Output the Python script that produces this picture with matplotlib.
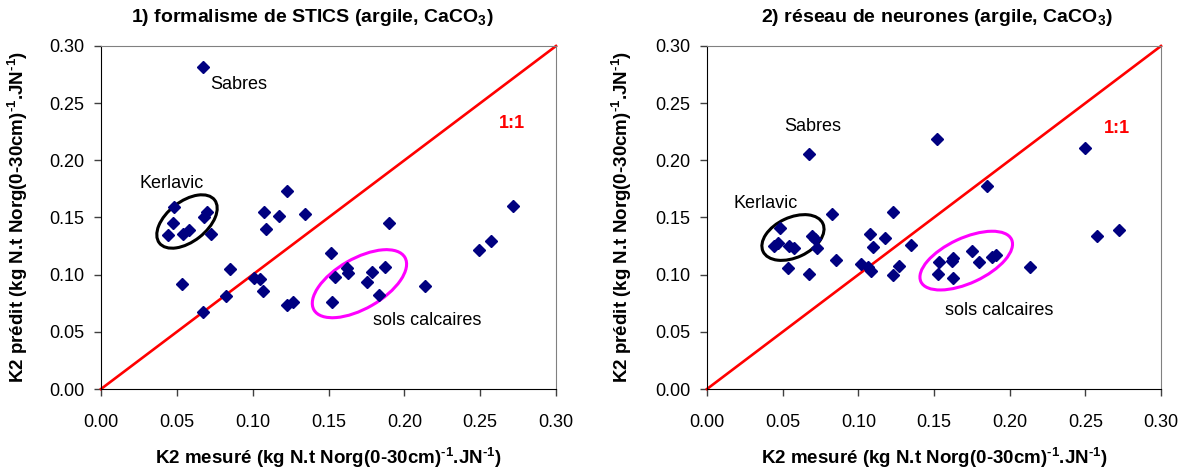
import numpy as np
import matplotlib
matplotlib.use("Agg")
from matplotlib import pyplot as plt
from matplotlib.patches import Ellipse
from matplotlib import transforms

plt.rcParams['font.family'] = ['Liberation Sans', 'DejaVu Sans']
plt.rcParams['mathtext.fontset'] = 'custom'
plt.rcParams['mathtext.rm'] = 'Liberation Sans:bold'
plt.rcParams['mathtext.bf'] = 'Liberation Sans:bold'

# 1) STICS formalism
x_stics = [0.067, 0.0481, 0.0473, 0.044, 0.0543, 0.0582, 0.0697, 0.0679, 0.0725,
           0.0532, 0.0851, 0.067, 0.0824, 0.1009, 0.105, 0.107, 0.1224, 0.1264,
           0.1073, 0.1088, 0.1176, 0.1227, 0.1348, 0.1516, 0.1901, 0.1543, 0.162,
           0.1631, 0.179, 0.1752, 0.1875, 0.1836, 0.1525, 0.2133, 0.2493, 0.257, 0.2714]
y_stics = [0.282, 0.159, 0.145, 0.135, 0.136, 0.139, 0.155, 0.150, 0.136,
           0.092, 0.105, 0.0675, 0.0816, 0.097, 0.0959, 0.086, 0.0734, 0.0757,
           0.1544, 0.140, 0.151, 0.173, 0.153, 0.119, 0.145, 0.0982, 0.1059,
           0.1011, 0.102, 0.0932, 0.1064, 0.0825, 0.0757, 0.0897, 0.1217, 0.1298, 0.1603]

# 2) neural network
x_nn = [0.0672, 0.1522, 0.0828, 0.1227, 0.0482, 0.0443, 0.0471, 0.0544, 0.0577,
        0.0694, 0.0714, 0.0729, 0.0537, 0.0672, 0.0852, 0.1077, 0.1095, 0.1178,
        0.135, 0.1018, 0.1062, 0.1082, 0.1227, 0.1267, 0.2496, 0.1848, 0.2575,
        0.272, 0.2134, 0.1535, 0.1528, 0.1628, 0.162, 0.1628, 0.1749, 0.1797, 0.1881, 0.191]
y_nn = [0.2059, 0.219, 0.1532, 0.1544, 0.141, 0.1248, 0.128, 0.125, 0.123,
        0.134, 0.131, 0.123, 0.106, 0.1006, 0.113, 0.1357, 0.124, 0.1325,
        0.1263, 0.1094, 0.1064, 0.1029, 0.100, 0.1079, 0.2105, 0.1778, 0.1342,
        0.1392, 0.1064, 0.1108, 0.1006, 0.1146, 0.112, 0.0971, 0.121, 0.1108, 0.1158, 0.1175]

ticks = [0.00, 0.05, 0.10, 0.15, 0.20, 0.25, 0.30]

xlab = r"K2 mesuré (kg N.t Norg(0-30cm)$^{\text{-1}}$.JN$^{\text{-1}}$)"
ylab = r"K2 prédit (kg N.t Norg(0-30cm)$^{\text{-1}}$.JN$^{\text{-1}}$)"

fig = plt.figure(figsize=(11.89, 4.73), dpi=100)
ax1 = fig.add_axes([101/1189, 1-389/473, 455/1189, 343/473])
ax2 = fig.add_axes([707/1189, 1-389/473, 454/1189, 343/473])


def ellipse(ax, cx, cy, w, h, ang, col):
    # size in pixels, centre in data coords
    tr = fig.dpi_scale_trans + transforms.ScaledTranslation(cx, cy, ax.transData)
    e = Ellipse((0, 0), w/100, h/100, angle=ang, transform=tr,
                fill=False, edgecolor=col, lw=2.2, clip_on=False, zorder=4)
    ax.add_patch(e)


for ax, xs, ys in [(ax1, x_stics, y_stics), (ax2, x_nn, y_nn)]:
    ax.plot([0, 0.3], [0, 0.3], color='red', lw=1.9, zorder=2, clip_on=False)
    ax.plot(xs, ys, 'D', color='#000080', ms=6.3, zorder=5, clip_on=False)
    ax.set_xlim(0, 0.3)
    ax.set_ylim(0, 0.3)
    ax.set_xticks(ticks)
    ax.set_yticks(ticks)
    ax.set_xticklabels(["%.2f" % t for t in ticks])
    ax.set_yticklabels(["%.2f" % t for t in ticks])
    ax.tick_params(direction='out', length=5, width=1, labelsize=13, color='#404040')
    ax.tick_params(axis='x', pad=13)
    ax.tick_params(axis='y', pad=7)
    for s in ['top', 'right']:
        ax.spines[s].set_color('#808080')
    for s in ['left', 'bottom']:
        ax.spines[s].set_color('black')

ellipse(ax1, 0.0567, 0.1465, 70, 40, 38, 'black')
ellipse(ax1, 0.1704, 0.0921, 105, 50, 30, '#FF00FF')
ellipse(ax2, 0.0568, 0.1325, 66, 40, 25, 'black')
ellipse(ax2, 0.1713, 0.1123, 100, 45, 25, '#FF00FF')

ax1.text(0.0719, 0.2667, "Sabres", fontsize=13, va='center')
ax1.text(0.0257, 0.180, "Kerlavic", fontsize=13, va='center')
ax1.text(0.1793, 0.0596, "sols calcaires", fontsize=13, va='center')
ax1.text(0.2624, 0.2325, "1:1", fontsize=13, color='red', fontweight='bold', va='center')

ax2.text(0.0509, 0.2298, "Sabres", fontsize=13, va='center')
ax2.text(0.0172, 0.1623, "Kerlavic", fontsize=13, va='center')
ax2.text(0.1573, 0.0684, "sols calcaires", fontsize=13, va='center')
ax2.text(0.2623, 0.2281, "1:1", fontsize=13, color='red', fontweight='bold', va='center')

fig.text(312/1189, 1-18/473, r"1) formalisme de STICS (argile, CaCO$_{\mathbf{3}}$)",
         fontsize=14, fontweight='bold', ha='center', va='center')
fig.text(937/1189, 1-18/473, r"2) réseau de neurones (argile, CaCO$_{\mathbf{3}}$)",
         fontsize=14, fontweight='bold', ha='center', va='center')

fig.text(328/1189, 1-458/473, xlab, fontsize=13.5, fontweight='bold', ha='center', va='center')
fig.text(934/1189, 1-458/473, xlab, fontsize=13.5, fontweight='bold', ha='center', va='center')
fig.text(18/1189, 1-217/473, ylab, fontsize=13.5, fontweight='bold', ha='center', va='center', rotation=90)
fig.text(622/1189, 1-217/473, ylab, fontsize=13.5, fontweight='bold', ha='center', va='center', rotation=90)

fig.savefig("out.png", dpi=100)
